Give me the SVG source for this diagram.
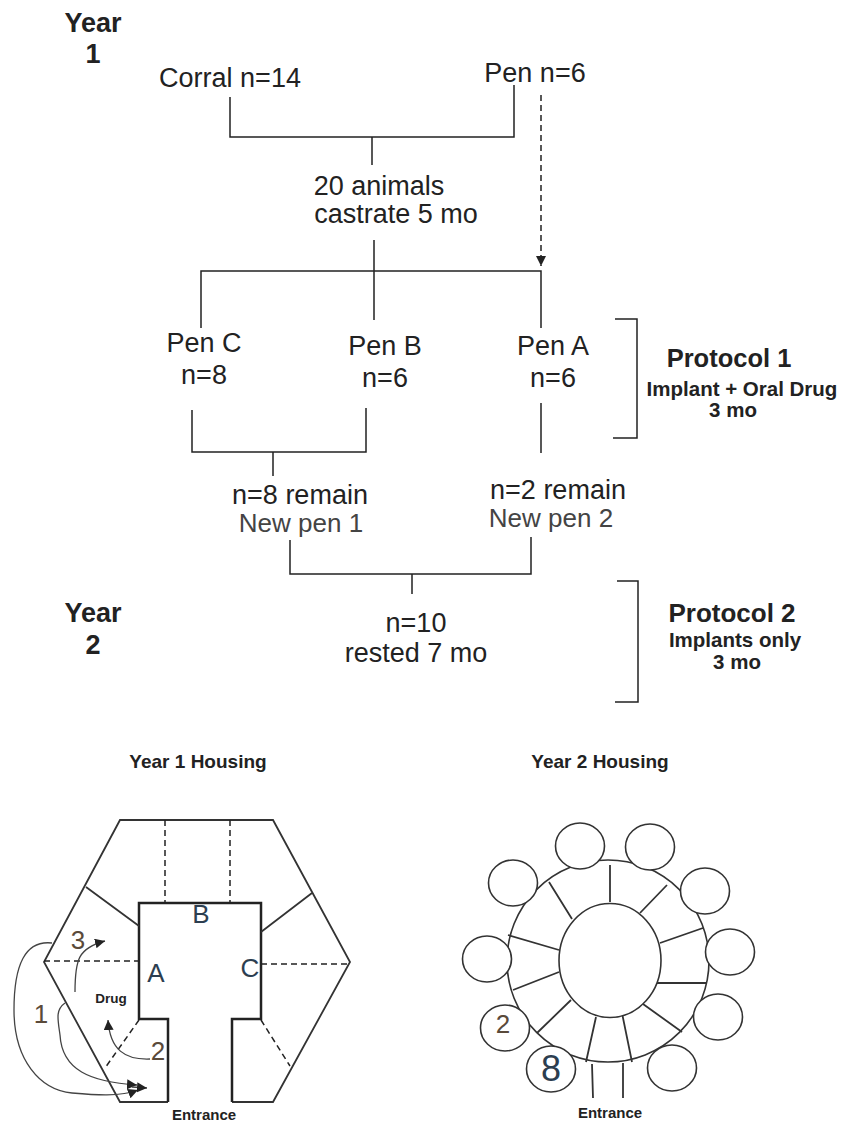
<svg xmlns="http://www.w3.org/2000/svg" width="850" height="1124" viewBox="0 0 850 1124">
<style>
text{font-family:"Liberation Sans",Arial,sans-serif;fill:#222;text-anchor:middle}
.t{font-size:27px}
.n{font-size:26px;fill:#444}
.b{font-size:27px;font-weight:bold}
.p{font-size:25.500px;font-weight:bold}
.s{font-size:20.500px;font-weight:bold}
.h{font-size:19px;font-weight:bold}
.e{font-size:15px;font-weight:bold}
.d{font-size:26px;fill:#2c3e50}
.o{font-size:26px;fill:#5a4a3a}
.l{fill:none;stroke:#222;stroke-width:1.5}
.m{fill:none;stroke:#333;stroke-width:1.8}
.w{fill:none;stroke:#222;stroke-width:2.500}
.dash{fill:none;stroke:#222;stroke-width:1.500;stroke-dasharray:6 4}
.c{fill:#fff;stroke:#333;stroke-width:1.600}
.i{fill:none;stroke:#444;stroke-width:1.300}
</style>
<defs>
<marker id="a" markerUnits="userSpaceOnUse" markerWidth="12" markerHeight="12" refX="10" refY="5" orient="auto"><path d="M0 0L10 5L0 10Z" fill="#222"/></marker>
</defs>
<g id="connectors">
<path class="l" d="M230 97V137H514V85M372 137V165M374 240V320M201 328V271H541V328M541 403V453M192 410V452H366V408M273 452V476M290 540V574H531V537M412 574V594M615 319H637V438H613M617 581H638V702H615"/>
<path class="dash" d="M541 95V266" marker-end="url(#a)"/>
</g>
<g id="year1"><text class="b" x="93" y="32">Year</text><text class="b" x="93" y="63">1</text></g>
<g id="corral"><text class="t" x="230" y="87">Corral n=14</text></g>
<g id="pen"><text class="t" x="535" y="82">Pen n=6</text></g>
<g id="animals"><text class="t" x="379" y="195">20 animals</text><text class="t" x="396" y="223">castrate 5 mo</text></g>
<g id="penC"><text class="t" x="204" y="352">Pen C</text><text class="t" x="204" y="384">n=8</text></g>
<g id="penB"><text class="t" x="385" y="355">Pen B</text><text class="t" x="385" y="387">n=6</text></g>
<g id="penA"><text class="t" x="553" y="355">Pen A</text><text class="t" x="553" y="387">n=6</text></g>
<g id="protocol1"><text class="p" x="729" y="367">Protocol 1</text><text class="s" x="742" y="396">Implant + Oral Drug</text><text class="s" x="733" y="417">3 mo</text></g>
<g id="remain8"><text class="t" x="300" y="504">n=8 remain</text><text class="n" x="301" y="532">New pen 1</text></g>
<g id="remain2"><text class="t" x="558" y="499">n=2 remain</text><text class="n" x="551" y="527">New pen 2</text></g>
<g id="year2"><text class="b" x="93" y="622">Year</text><text class="b" x="93" y="654">2</text></g>
<g id="n10"><text class="t" x="416" y="632">n=10</text><text class="t" x="416" y="662">rested 7 mo</text></g>
<g id="protocol2"><text class="p" x="732" y="622" style="font-size:26px">Protocol 2</text><text class="s" x="735" y="647">Implants only</text><text class="s" x="737" y="669">3 mo</text></g>
<g id="housing1">
<text class="h" x="198" y="768">Year 1 Housing</text>
<path class="m" d="M168 1102H120L44 962L120 820H273L350 962L273 1102H232"/>
<path class="w" d="M168 1102V1019H139V903H261V1019H232V1102"/>
<path class="m" d="M86 887L139 926M312 893L261 932"/>
<path class="dash" d="M165 820V903M230 820V903M44 961H139M261 964H350M139 1020L105 1068M261 1020L290 1066"/>
<path class="i" d="M75 992C75 960 78 948 105 941" marker-end="url(#a)"/>
<path class="i" d="M150 1059C125 1060 110 1050 108 1020" marker-end="url(#a)"/>
<path class="i" d="M52 943C25 940 14 965 14 1010C14 1060 40 1090 72 1093C95 1095 120 1097 138 1090" marker-end="url(#a)"/>
<path class="i" d="M65 1003C55 1010 58 1020 60 1035C62 1070 90 1082 137 1085" marker-end="url(#a)"/>
<path class="i" d="M132 1087L147 1088" marker-end="url(#a)"/>
<text class="o" x="78" y="949">3</text>
<text class="d" x="156" y="982">A</text>
<text class="d" x="201" y="923">B</text>
<text class="d" x="250" y="977">C</text>
<text class="o" x="41" y="1023">1</text>
<text class="o" x="158" y="1060">2</text>
<text class="e" x="111" y="1003" style="font-size:13.500px">Drug</text>
<text class="e" x="204" y="1120">Entrance</text>
</g>
<g id="housing2">
<text class="h" x="600" y="768">Year 2 Housing</text>
<ellipse class="c" cx="608" cy="961" rx="101" ry="101"/>
<path class="m" d="M610 865V902M667 885L640 913M703 928L660 943M707 983H656M682 1032L643 1004M632 1062L622 1013M586 1062L596 1017M537 1033L571 1000M513 990L559 972M508 935L559 950M549 882L572 919M592 1064L593 1098M623 1063V1098"/>
<ellipse class="c" cx="610" cy="960.500" rx="51" ry="57"/>
<ellipse class="c" cx="580" cy="846" rx="24.500" ry="23"/>
<ellipse class="c" cx="650" cy="847" rx="24.500" ry="23"/>
<ellipse class="c" cx="705" cy="891" rx="24.500" ry="23"/>
<ellipse class="c" cx="730" cy="952" rx="24.500" ry="23"/>
<ellipse class="c" cx="718" cy="1017" rx="24.500" ry="23"/>
<ellipse class="c" cx="672" cy="1068" rx="24.500" ry="23"/>
<ellipse class="c" cx="551" cy="1069" rx="24.500" ry="23"/>
<ellipse class="c" cx="505" cy="1028" rx="24.500" ry="23"/>
<ellipse class="c" cx="487" cy="959" rx="24.500" ry="23"/>
<ellipse class="c" cx="513" cy="883" rx="24.500" ry="23"/>
<text class="o" x="503" y="1033">2</text>
<text class="d" x="551" y="1081" style="font-size:36px">8</text>
<text class="e" x="610" y="1118">Entrance</text>
</g>
</svg>
